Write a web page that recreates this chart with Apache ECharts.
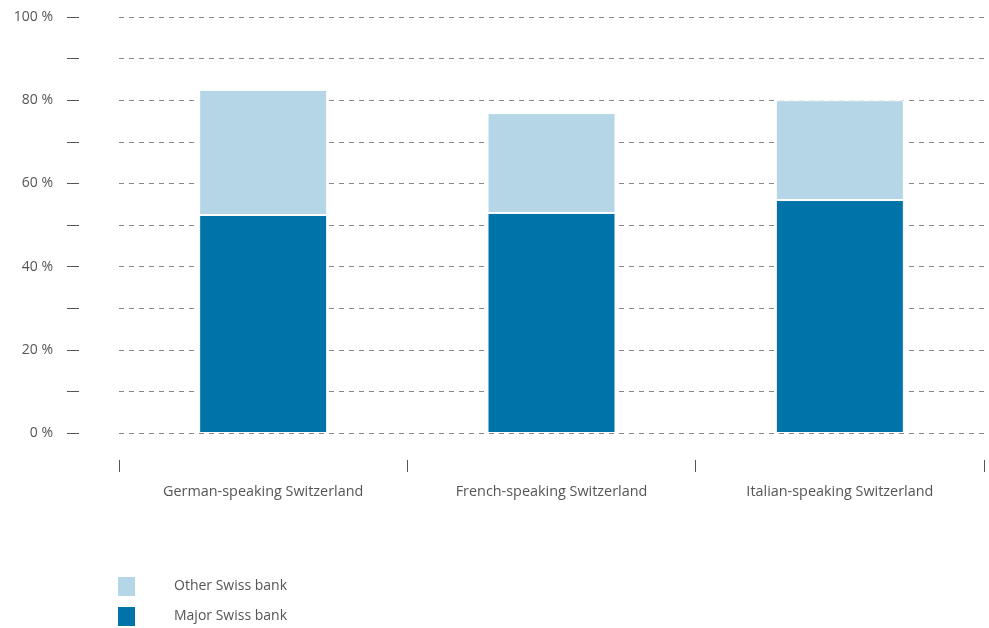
<!DOCTYPE html>
<html>
<head>
<meta charset="utf-8">
<script src="https://cdn.jsdelivr.net/npm/echarts@6/dist/echarts.min.js"></script>
<style>html,body{margin:0;padding:0;background:#fff}#c{width:989px;height:628px}</style>
</head>
<body>
<div id="c"></div>
<script>
const categories = ['German-speaking Switzerland', 'French-speaking Switzerland', 'Italian-speaking Switzerland'];
const majorSwissBank = [52.4, 52.9, 56.0];
const otherSwissBank = [30.1, 24.0, 24.0];
const seriesNames = ['Major Swiss bank', 'Other Swiss bank'];

const chart = echarts.init(document.getElementById('c'), null, {renderer: 'canvas'});
const fontFamily = '"Open Sans", Lato, sans-serif';
chart.setOption({
  animation: false,
  textStyle: {fontFamily: fontFamily},
  grid: {left: 119, width: 865, top: 17, bottom: 195},
  legend: {
    orient: 'vertical', left: 116, bottom: 0,
    itemWidth: 19, itemHeight: 21, itemGap: 7, padding: 0,
    data: [seriesNames[1], seriesNames[0]],
    icon: 'rect',
    textStyle: {fontSize: 14, lineHeight: 21, color: '#555', fontFamily: fontFamily, padding: [0, 0, 0, 33]}
  },
  xAxis: {
    type: 'category', data: categories, offset: 27,
    axisLine: {show: false, onZero: false},
    axisTick: {show: true, length: 12, lineStyle: {color: '#555'}},
    axisLabel: {fontSize: 14.4, color: '#555', margin: 25, fontFamily: fontFamily},
    splitLine: {show: false}
  },
  yAxis: {
    type: 'value', min: 0, max: 100, interval: 10, offset: 40,
    axisLine: {show: false},
    axisTick: {show: true, length: 12, lineStyle: {color: '#555'}},
    axisLabel: {fontSize: 14, color: '#555', margin: 26, fontFamily: fontFamily,
      formatter: v => (v % 20 === 0 ? v + ' %' : '')},
    splitLine: {show: true, lineStyle: {color: '#888', type: [5, 5], width: 1}}
  },
  series: [
    {name: seriesNames[0], type: 'bar', stack: 's', barWidth: 128, data: majorSwissBank,
     itemStyle: {color: '#0073A8', borderColor: '#fff', borderWidth: 1}},
    {name: seriesNames[1], type: 'bar', stack: 's', barWidth: 128, data: otherSwissBank,
     itemStyle: {color: '#B5D6E6', borderColor: '#fff', borderWidth: 1}}
  ]
});
</script>
</body>
</html>
